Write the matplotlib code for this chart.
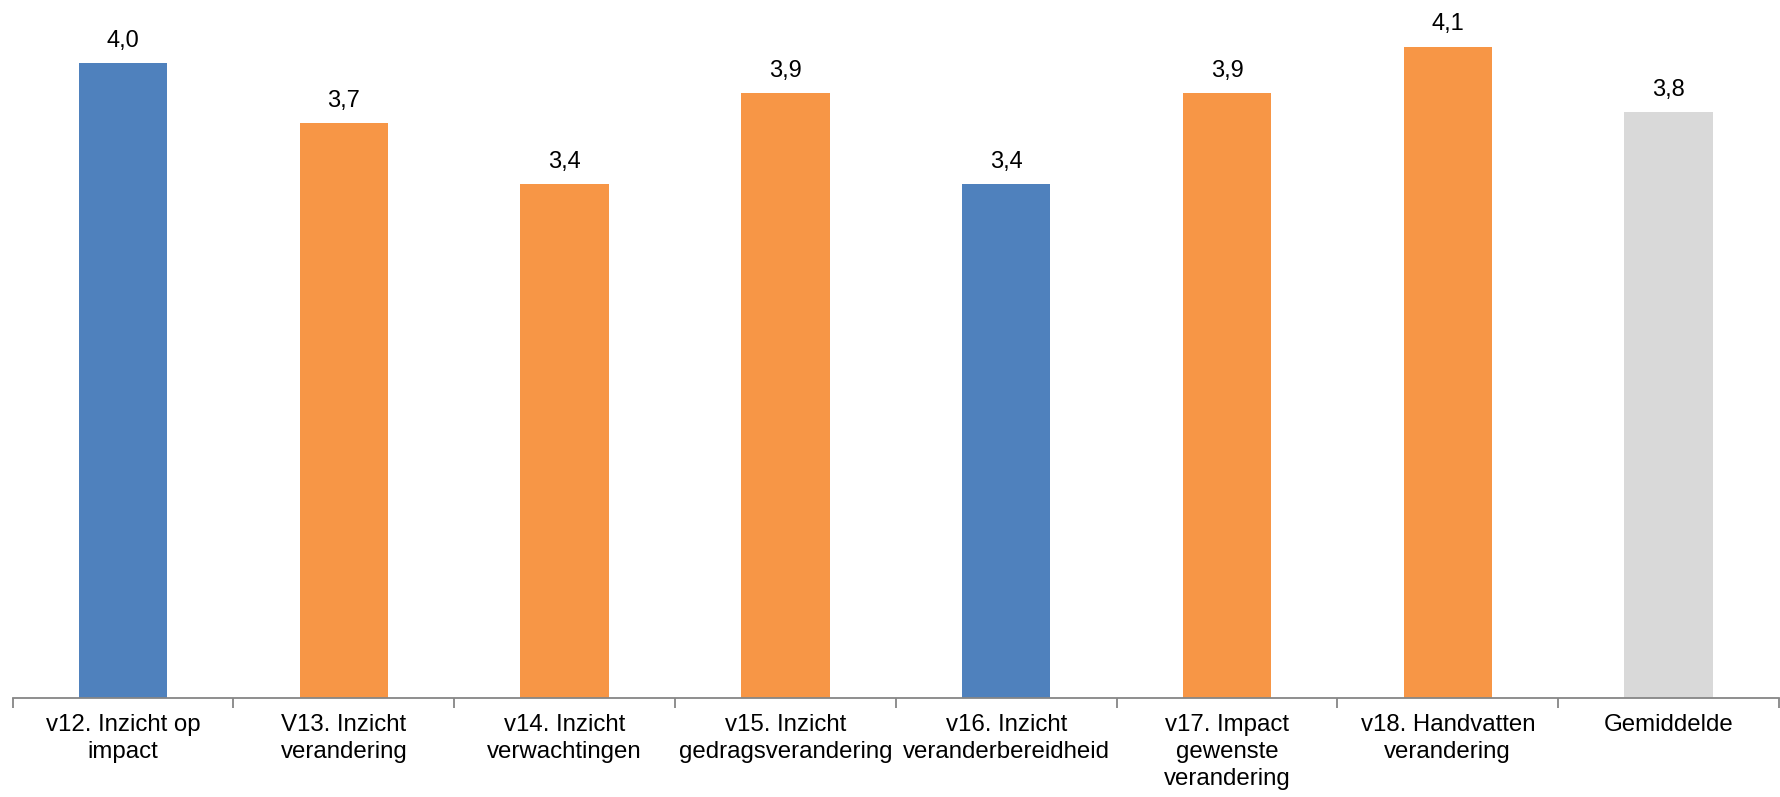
import matplotlib
matplotlib.use('Agg')

import matplotlib.pyplot as plt

plt.rcParams['font.family'] = ['Liberation Sans', 'DejaVu Sans']

categories = ["v12. Inzicht op\nimpact", "V13. Inzicht\nverandering", "v14. Inzicht\nverwachtingen",
              "v15. Inzicht\ngedragsverandering", "v16. Inzicht\nveranderbereidheid",
              "v17. Impact\ngewenste\nverandering", "v18. Handvatten\nverandering", "Gemiddelde"]
values = [4.00, 3.72, 3.43, 3.86, 3.43, 3.86, 4.08, 3.77]
value_labels = ["4,0", "3,7", "3,4", "3,9", "3,4", "3,9", "4,1", "3,8"]
bar_colors = ["#4F81BD", "#F79646", "#F79646", "#F79646", "#4F81BD", "#F79646", "#F79646", "#D9D9D9"]

fig = plt.figure(figsize=(17.8, 7.97), dpi=100)
ax = fig.add_axes([0.0071, 0.1246, 0.9923, 0.8754])

x = range(len(categories))
ax.bar(x, [v - 1 for v in values], bottom=1, width=0.4, color=bar_colors)

for i, (v, lab) in enumerate(zip(values, value_labels)):
    ax.annotate(lab, (i, v), xytext=(0, 8), textcoords="offset points",
                ha="center", va="bottom", fontsize=17, color="black")

ax.set_xlim(-0.5, len(categories) - 0.5)
ax.set_ylim(1, 4.30)

ax.set_xticks(list(x))
ax.set_xticklabels(categories, fontsize=17.3, linespacing=1.29)
ax.tick_params(axis="x", which="major", length=0, pad=12)
ax.set_xticks([i - 0.5 for i in range(len(categories) + 1)], minor=True)
ax.tick_params(axis="x", which="minor", length=7, width=1.3, color="#868686", direction="out")

ax.set_yticks([])
for side in ["top", "right", "left"]:
    ax.spines[side].set_visible(False)
ax.spines["bottom"].set_color("#868686")
ax.spines["bottom"].set_linewidth(1.3)

plt.savefig("out.png", dpi=100)
